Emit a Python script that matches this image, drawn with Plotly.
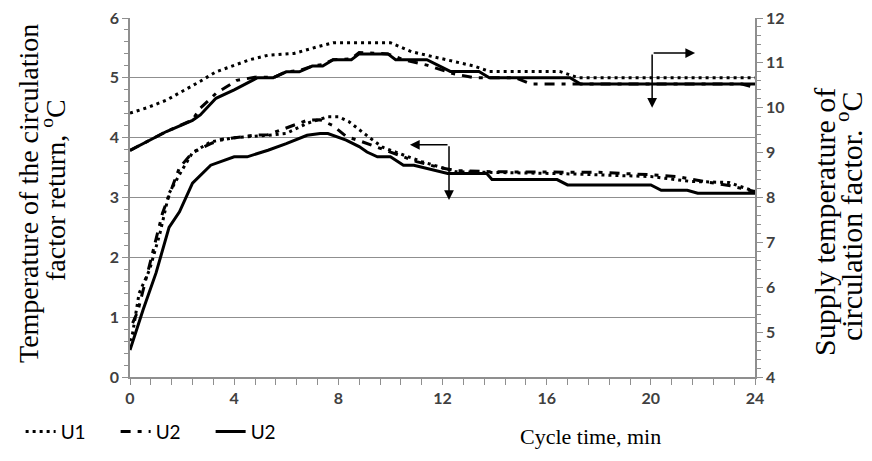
import plotly.graph_objects as go

# ---- data (time in minutes) ----
# Return temperature of circulation factor (left axis, degC)
t_ret_u1 = [0, 0.1, 0.35, 0.75, 1.15, 1.5, 2.0, 2.4, 3.1, 4.0, 5.3, 6.0, 6.8, 7.6, 8.0, 8.4, 9.2, 9.7,
            10.5, 11.2, 11.9, 12.5, 16.5, 20.0, 21.5, 23.0, 24.0]
ret_u1 = [0.6, 0.73, 1.4, 1.79, 2.4, 3.07, 3.46, 3.75, 3.93, 4.0, 4.04, 4.07, 4.24, 4.35, 4.35, 4.27, 4.0, 3.84,
          3.71, 3.6, 3.51, 3.43, 3.4, 3.35, 3.27, 3.25, 3.1]

t_ret_u2a = [0.1, 0.3, 0.75, 1.25, 1.9, 2.4, 3.1, 3.5, 4.75, 5.3, 6.8, 7.3, 7.8, 8.3, 8.8, 10.0, 10.4, 11.0,
             11.9, 12.5, 14.0, 16.0, 18.0, 20.0, 21.0, 22.0, 23.0, 24.0]
ret_u2a = [0.9, 1.1, 1.87, 2.74, 3.5, 3.75, 3.9, 3.97, 4.04, 4.05, 4.29, 4.3, 4.2, 4.02, 3.95, 3.76, 3.69, 3.6,
           3.5, 3.45, 3.43, 3.42, 3.42, 3.38, 3.35, 3.27, 3.2, 3.1]

t_ret_u2b = [0, 0.5, 1.0, 1.5, 1.9, 2.4, 3.1, 4.0, 4.5, 5.3, 6.0, 6.8, 7.3, 7.6, 8.3, 8.8, 9.1, 9.5, 10.0,
             10.5, 10.9, 11.7, 12.2, 13.7, 13.9, 16.4, 16.8, 20.0, 20.4, 21.4, 21.8, 24.0]
ret_u2b = [0.45, 1.12, 1.74, 2.5, 2.76, 3.24, 3.54, 3.68, 3.68, 3.79, 3.9, 4.04, 4.07, 4.07, 3.96, 3.85, 3.76,
           3.68, 3.68, 3.54, 3.54, 3.46, 3.4, 3.4, 3.3, 3.3, 3.21, 3.21, 3.12, 3.12, 3.07, 3.07]

# Supply temperature of circulation factor (right axis, degC)
t_sup_u1 = [0, 0.7, 1.4, 2.0, 2.7, 3.3, 4.0, 4.6, 5.3, 6.3, 7.2, 7.8, 10.0, 10.8, 11.1, 12.4, 13.2, 13.8,
            16.5, 17.2, 24.0]
sup_u1 = [9.88, 10.01, 10.17, 10.36, 10.59, 10.8, 10.95, 11.07, 11.17, 11.21, 11.36, 11.45, 11.45, 11.25,
          11.21, 11.03, 10.93, 10.81, 10.81, 10.67, 10.67]

t_sup_u2a = [0, 1.4, 2.4, 2.7, 3.3, 4.1, 4.9, 5.5, 6.0, 6.5, 7.0, 7.4, 7.8, 8.5, 8.8, 9.9, 10.5, 11.4,
             12.4, 13.2, 14.8, 15.4, 23.5, 24.0]
sup_u2a = [9.05, 9.47, 9.73, 9.99, 10.32, 10.61, 10.69, 10.67, 10.8, 10.83, 10.93, 10.96, 11.07, 11.09,
           11.23, 11.2, 11.07, 10.95, 10.76, 10.67, 10.67, 10.53, 10.53, 10.45]

t_sup_u2b = [0, 1.4, 2.4, 2.7, 3.3, 4.0, 4.9, 5.5, 6.0, 6.5, 7.0, 7.4, 7.8, 8.5, 8.8, 9.9, 10.2, 11.4,
             12.3, 13.4, 13.8, 16.9, 17.3, 24.0]
sup_u2b = [9.05, 9.47, 9.72, 9.84, 10.21, 10.4, 10.67, 10.67, 10.8, 10.8, 10.93, 10.93, 11.07, 11.07,
           11.2, 11.2, 11.07, 11.07, 10.81, 10.81, 10.67, 10.67, 10.53, 10.53]

x_ticks = [0, 4, 8, 12, 16, 20, 24]
y_left_ticks = [0, 1, 2, 3, 4, 5, 6]
y_right_ticks = [4, 5, 6, 7, 8, 9, 10, 11, 12]

legend_names = ["U1", "U2", "U2"]

# ---- styles ----
DOT = "3px,4px"
DASHDOT = "10px,7px,4px,7px"
LW = 3
GRAY = "#8f8f8f"
TICKFONT = dict(family="Lato", size=16, color="#404040", weight="bold")
SERIF = "Liberation Serif"

fig = go.Figure()

# lower curves (return temp, left axis) - carry the legend
fig.add_trace(go.Scatter(x=t_ret_u1, y=ret_u1, mode="lines", name=legend_names[0],
                         line=dict(color="black", width=LW, dash=DOT), legendrank=1))
fig.add_trace(go.Scatter(x=t_ret_u2a, y=ret_u2a, mode="lines", name=legend_names[1],
                         line=dict(color="black", width=LW, dash=DASHDOT), legendrank=2))
fig.add_trace(go.Scatter(x=t_ret_u2b, y=ret_u2b, mode="lines", name=legend_names[2],
                         line=dict(color="black", width=LW), legendrank=3))

# upper curves (supply temp, right axis)
fig.add_trace(go.Scatter(x=t_sup_u1, y=sup_u1, mode="lines", yaxis="y2", showlegend=False,
                         line=dict(color="black", width=LW, dash=DOT)))
fig.add_trace(go.Scatter(x=t_sup_u2a, y=sup_u2a, mode="lines", yaxis="y2", showlegend=False,
                         line=dict(color="black", width=LW, dash=DASHDOT)))
fig.add_trace(go.Scatter(x=t_sup_u2b, y=sup_u2b, mode="lines", yaxis="y2", showlegend=False,
                         line=dict(color="black", width=LW)))

# axis-pointer arrows
arrow_common = dict(showarrow=True, arrowhead=2, arrowsize=1.3, arrowwidth=1.5, arrowcolor="black", text="")
# lower group -> left axis
fig.add_annotation(x=10.75, y=3.88, ax=12.25, ay=3.88, xref="x", yref="y", axref="x", ayref="y", **arrow_common)
fig.add_annotation(x=12.25, y=2.96, ax=12.25, ay=3.88, xref="x", yref="y", axref="x", ayref="y", **arrow_common)
# upper group -> right axis
fig.add_annotation(x=21.7, y=11.22, ax=20.05, ay=11.22, xref="x", yref="y2", axref="x", ayref="y2", **arrow_common)
fig.add_annotation(x=20.05, y=10.0, ax=20.05, ay=11.22, xref="x", yref="y2", axref="x", ayref="y2", **arrow_common)

# axis titles (one annotation per line so line spacing can follow the reference)
title_common = dict(xref="paper", yref="paper", xanchor="center", yanchor="middle",
                    textangle=-90, showarrow=False)
fig.add_annotation(text="Temperature of the circulation", x=(28 - 130) / 625, y=(377 - 194) / 359,
                   font=dict(family=SERIF, size=28, color="black"), **title_common)
fig.add_annotation(text="factor return, <sup>o</sup>C", x=(53 - 130) / 625, y=(377 - 190) / 359,
                   font=dict(family=SERIF, size=28, color="black"), **title_common)
fig.add_annotation(text="Supply temperature of", x=(824 - 130) / 625, y=(377 - 222) / 359,
                   font=dict(family=SERIF, size=30, color="black"), **title_common)
fig.add_annotation(text="circulation factor. <sup>o</sup>C", x=(849 - 130) / 625, y=(377 - 216) / 359,
                   font=dict(family=SERIF, size=30, color="black"), **title_common)
fig.add_annotation(text="Cycle time, min", xref="paper", yref="paper", x=(590 - 130) / 625,
                   y=(377 - 436) / 359, xanchor="center", yanchor="middle", showarrow=False,
                   font=dict(family=SERIF, size=22, color="black"))

# the page body adds an 8px offset, so the figure is 8px smaller and margins shifted
fig.update_layout(
    width=864, height=453,
    margin=dict(l=122, r=117, t=10, b=84, autoexpand=False),
    paper_bgcolor="white", plot_bgcolor="white",
    showlegend=True,
    legend=dict(orientation="h", x=-0.175, y=-0.152, xanchor="left", yanchor="middle",
                font=dict(family="Lato", size=19, color="black"),
                entrywidth=50, entrywidthmode="pixels", bgcolor="rgba(0,0,0,0)",
                traceorder="normal"),
    xaxis=dict(range=[0, 24], tickvals=x_ticks, ticks="outside", ticklen=6, tickwidth=1.3,
               tickcolor=GRAY, showline=True, linecolor=GRAY, linewidth=1.5, showgrid=False,
               zeroline=False, tickfont=TICKFONT, ticklabeloverflow="allow",
               minor=dict(dtick=0.8, tick0=0, ticks="outside", ticklen=6, tickwidth=1.3, tickcolor=GRAY)),
    yaxis=dict(range=[0, 6], tickvals=y_left_ticks, ticks="outside", ticklen=6, tickwidth=1.3,
               tickcolor=GRAY, showline=True, linecolor=GRAY, linewidth=1.5, showgrid=True,
               gridcolor=GRAY, gridwidth=1.4, zeroline=False, tickfont=TICKFONT, ticklabeloverflow="allow",
               minor=dict(dtick=0.2, tick0=0, ticks="outside", ticklen=4, tickwidth=1.2, tickcolor=GRAY)),
    yaxis2=dict(range=[4, 12], tickvals=y_right_ticks, overlaying="y", side="right", ticks="outside",
                ticklen=6, tickwidth=1.3, tickcolor=GRAY, showline=True, linecolor=GRAY, linewidth=1.5,
                showgrid=False, zeroline=False, tickfont=TICKFONT, ticklabeloverflow="allow",
                minor=dict(dtick=0.2, tick0=4, ticks="outside", ticklen=4, tickwidth=1.2, tickcolor=GRAY)),
)

fig.write_html("out.html")
